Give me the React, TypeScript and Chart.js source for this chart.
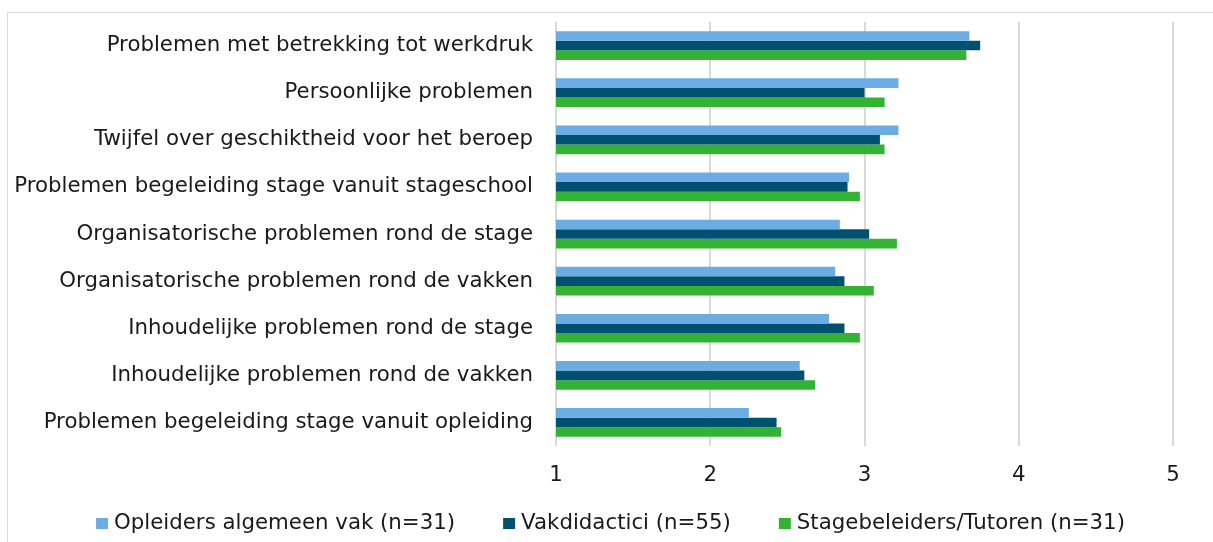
import React, { useEffect, useRef } from "react";
import { Chart, registerables } from "chart.js";

Chart.register(...registerables);

const categories = [
  "Problemen met betrekking tot werkdruk",
  "Persoonlijke problemen",
  "Twijfel over geschiktheid voor het beroep",
  "Problemen begeleiding stage vanuit stageschool",
  "Organisatorische problemen rond de stage",
  "Organisatorische problemen rond de vakken",
  "Inhoudelijke problemen rond de stage",
  "Inhoudelijke problemen rond de vakken",
  "Problemen begeleiding stage vanuit opleiding",
];

const opleiders = [3.68, 3.22, 3.22, 2.9, 2.84, 2.81, 2.77, 2.58, 2.25];
const vakdidactici = [3.75, 3.0, 3.1, 2.89, 3.03, 2.87, 2.87, 2.61, 2.43];
const stagebeleiders = [3.66, 3.13, 3.13, 2.97, 3.21, 3.06, 2.97, 2.68, 2.46];

const seriesLabels = [
  "Opleiders algemeen vak (n=31)",
  "Vakdidactici (n=55)",
  "Stagebeleiders/Tutoren (n=31)",
];

const seriesColors = ["#6BADE3", "#005070", "#34B233"];

const xMin = 1;
const xMax = 5;

const FONT = "'DejaVu Sans', Verdana, sans-serif";
const FONT_SIZE = 21.3;
const TEXT = "#1a1a1a";

// Legend drawn below the axis, Excel-style spacing
const legendPlugin = {
  id: "excelLegend",
  afterDraw(chart: any) {
    const ctx = chart.ctx as CanvasRenderingContext2D;
    const boxW = 12;
    const boxH = 11;
    const boxGap = 6;
    const itemGap = 48;
    ctx.save();
    ctx.font = `${FONT_SIZE}px ${FONT}`;
    const items = chart.data.datasets.map((ds: any) => ({
      text: String(ds.label),
      color: ds.backgroundColor as string,
      w: ctx.measureText(String(ds.label)).width,
    }));
    const total =
      items.reduce((s: number, it: any) => s + boxW + boxGap + it.w, 0) +
      itemGap * (items.length - 1);
    let x = chart.width / 2 + 4 - total / 2;
    const cy = chart.height - 18.5;
    ctx.textBaseline = "middle";
    ctx.textAlign = "left";
    for (const it of items) {
      ctx.fillStyle = it.color;
      ctx.fillRect(x, cy - boxH / 2, boxW, boxH);
      ctx.fillStyle = TEXT;
      ctx.fillText(it.text, x + boxW + boxGap, cy);
      x += boxW + boxGap + it.w + itemGap;
    }
    ctx.restore();
  },
};

export default function App() {
  const ref = useRef<HTMLCanvasElement | null>(null);

  useEffect(() => {
    if (!ref.current) return;
    const chart = new Chart(ref.current, {
      type: "bar",
      data: {
        labels: categories,
        datasets: [
          { label: seriesLabels[0], data: opleiders, backgroundColor: seriesColors[0] },
          { label: seriesLabels[1], data: vakdidactici, backgroundColor: seriesColors[1] },
          { label: seriesLabels[2], data: stagebeleiders, backgroundColor: seriesColors[2] },
        ],
      },
      options: {
        indexAxis: "y",
        animation: false,
        responsive: true,
        maintainAspectRatio: false,
        layout: { padding: { top: 22, right: 40, left: 0, bottom: 36.4 } },
        datasets: {
          bar: { categoryPercentage: 0.61, barPercentage: 1.0 },
        },
        scales: {
          x: {
            min: xMin,
            max: xMax,
            ticks: {
              stepSize: 1,
              padding: 17,
              color: TEXT,
              font: { family: FONT, size: FONT_SIZE },
            },
            grid: { color: "#D9D9D9", lineWidth: 2, drawTicks: false },
            border: { display: false },
          },
          y: {
            ticks: {
              padding: 23,
              color: TEXT,
              font: { family: FONT, size: FONT_SIZE },
            },
            grid: { display: false, drawTicks: false },
            border: { display: false },
            afterFit: (scale: any) => {
              scale.width = 556;
              scale.paddingTop = 0;
              scale.paddingBottom = 0;
            },
          },
        },
        plugins: {
          tooltip: { enabled: false },
          legend: { display: false },
        },
      },
      plugins: [legendPlugin],
    });
    return () => chart.destroy();
  }, []);

  return (
    <div
      style={{
        position: "fixed",
        left: 0,
        top: 0,
        width: 1213,
        height: 542,
        background: "#fff",
        overflow: "hidden",
      }}
    >
      <div
        style={{
          position: "absolute",
          left: 7,
          top: 12,
          right: 0,
          bottom: 0,
          borderTop: "1px solid #D9D9D9",
          borderLeft: "1px solid #D9D9D9",
        }}
      />
      <div style={{ position: "absolute", left: 0, top: 0, width: 1213, height: 542 }}>
        <canvas ref={ref} />
      </div>
    </div>
  );
}
